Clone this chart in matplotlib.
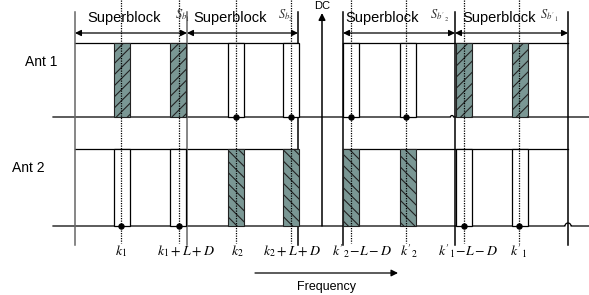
import numpy as np
import matplotlib
matplotlib.use("Agg")
import matplotlib.pyplot as plt
from matplotlib.patches import Rectangle

plt.rcParams['font.family'] = ['Liberation Sans', 'DejaVu Sans']
plt.rcParams['mathtext.fontset'] = 'stix'
plt.rcParams['hatch.linewidth'] = 0.8

# ---- diagram data (pixel-space layout of the figure) ----
superblock_edges = [75, 187, 298, 343, 455, 568]
superblock_pairs = [(75, 187), (187, 298), (343, 455), (455, 568)]
superblock_text_x = [87, 193, 345, 462]
sb_labels = [r"$S_{b_1}$", r"$S_{b_2}$", r"$S_{b'_2}$", r"$S_{b'_1}$"]
sb_label_x = [175, 278, 430, 540]

block_left = [114, 170, 228, 283, 343, 400, 456, 512]
block_width = 16
subcarrier_x = [121, 179, 236, 291, 351, 406, 464, 519]
# 1 = hatched (used), 0 = empty (with dot)
ant1_used = [1, 1, 0, 0, 0, 0, 1, 1]
ant2_used = [0, 0, 1, 1, 1, 1, 0, 0]

k_labels = [r"$k_1$", r"$k_1+L+D$", r"$k_2$", r"$k_2+L+D$",
            r"$k'_2\!-\!L-D$", r"$k'_2$", r"$k'_1\!-\!L-D$", r"$k'_1$"]
k_label_x = [121, 186, 237, 292, 362, 409, 468, 519]

ant_names = ["Ant 1", "Ant 2"]
ant_label_x = [25, 12]
ant_label_y = [62, 168]
row_top = [43, 149]
row_base = [117, 226]

fig = plt.figure(figsize=(5.89, 2.95), dpi=100)
ax = fig.add_axes([0, 0, 1, 1])
ax.set_xlim(0, 589)
ax.set_ylim(295, 0)
ax.axis('off')

lw = 0.9
hatch_face = '#7a9794'

# frame tops
for top in row_top:
    ax.plot([75, 298], [top, top], color='k', lw=lw)
    ax.plot([343, 568], [top, top], color='k', lw=lw)

# baselines with small hop bumps
def baseline(y, hop_x, r):
    xs = [53, hop_x - r]
    ys = [y, y]
    t = np.linspace(np.pi, 0, 20)
    xs += list(hop_x + r * np.cos(t))
    ys += list(y - r * np.sin(t))
    xs += [hop_x + r, 589]
    ys += [y, y]
    ax.plot(xs, ys, color='k', lw=lw)

baseline(row_base[0], 452, 1.5)
baseline(row_base[1], 568, 3)

# superblock boundaries
for i, x in enumerate(superblock_edges):
    c = '#666666' if i < 2 else 'k'
    ax.plot([x, x], [12, 245], color=c, lw=1.1)

# blocks
for used, top, base, hatch in [(ant1_used, row_top[0], row_base[0], '///'),
                               (ant2_used, row_top[1], row_base[1], '\\\\\\')]:
    for bl, u in zip(block_left, used):
        if u:
            ax.add_patch(Rectangle((bl, top), block_width, base - top,
                                   facecolor=hatch_face, edgecolor='#222222',
                                   hatch=hatch, lw=0.8, zorder=2))
        else:
            ax.add_patch(Rectangle((bl, top), block_width, base - top,
                                   facecolor='white', edgecolor='k',
                                   lw=lw, zorder=2))

# dotted subcarrier lines
for x in subcarrier_x:
    ax.plot([x, x], [0, 243], color='k', lw=0.9, ls=(0, (1, 1)), zorder=3)

# dots on baselines for empty blocks
for used, base in [(ant1_used, row_base[0]), (ant2_used, row_base[1])]:
    for x, u in zip(subcarrier_x, used):
        if not u:
            ax.plot(x, base, 'o', color='k', ms=3.6, zorder=4)

# superblock arrows and texts
for (a, b) in superblock_pairs:
    ax.annotate('', xy=(b, 33), xytext=(a, 33),
                arrowprops=dict(arrowstyle='<|-|>', color='k', lw=0.9,
                                mutation_scale=9, shrinkA=0, shrinkB=0))
for x in superblock_text_x:
    ax.text(x, 18, "Superblock", fontsize=10.5, ha='left', va='center')
for x, s in zip(sb_label_x, sb_labels):
    ax.text(x, 16, s, fontsize=9, ha='left', va='center', color='#333333')

# DC arrow
ax.annotate('', xy=(322, 13), xytext=(322, row_base[1]),
            arrowprops=dict(arrowstyle='-|>', color='k', lw=1.1,
                            mutation_scale=10, shrinkA=0, shrinkB=0))
ax.text(322, 6, "DC", fontsize=8, ha='center', va='center')

# antenna labels
for name, x, y in zip(ant_names, ant_label_x, ant_label_y):
    ax.text(x, y, name, fontsize=10, ha='left', va='center')

# subcarrier index labels
for x, s in zip(k_label_x, k_labels):
    ax.text(x, 251, s, fontsize=10, ha='center', va='center')

# frequency arrow
ax.annotate('', xy=(398, 273), xytext=(255, 273),
            arrowprops=dict(arrowstyle='-|>', color='k', lw=0.9,
                            mutation_scale=10, shrinkA=0, shrinkB=0))
ax.text(327, 287, "Frequency", fontsize=9, ha='center', va='center')

fig.savefig("out.png", dpi=100)
